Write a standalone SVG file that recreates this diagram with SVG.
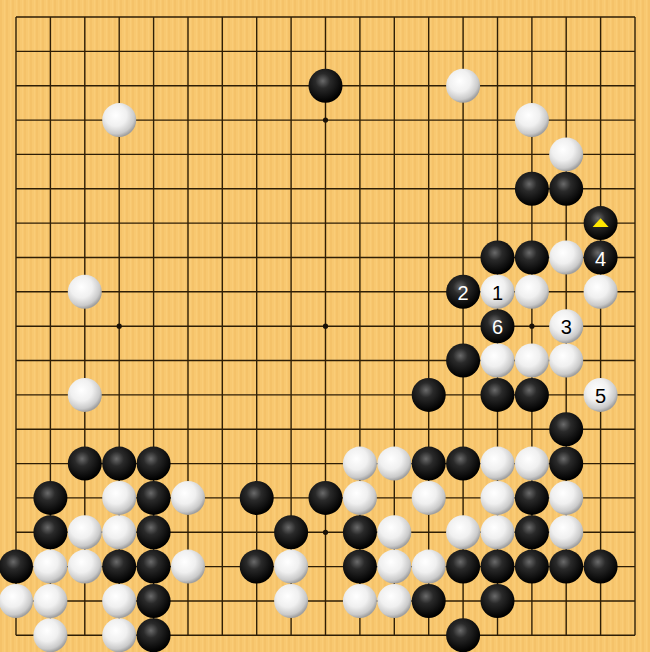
<svg xmlns="http://www.w3.org/2000/svg" xmlns:xlink="http://www.w3.org/1999/xlink" width="650" height="652" viewBox="0 0 650 652">
<defs>
<pattern id="wood" width="6" height="10" patternUnits="userSpaceOnUse">
<rect width="6" height="10" fill="#F8C870"/>
<rect x="0" width="2" height="10" fill="#F5C269"/>
<rect x="4" width="1" height="10" fill="#FACC77"/>
</pattern>
<radialGradient id="gb" cx="42%" cy="36%" r="62%">
<stop offset="0" stop-color="#6a6a6a"/>
<stop offset="0.35" stop-color="#2a2a2a"/>
<stop offset="1" stop-color="#000"/>
</radialGradient>
<radialGradient id="gw" cx="40%" cy="36%" r="64%">
<stop offset="0" stop-color="#ffffff"/>
<stop offset="0.5" stop-color="#f0f0f0"/>
<stop offset="0.85" stop-color="#cacaca"/>
<stop offset="1" stop-color="#a0a0a0"/>
</radialGradient>
<circle id="black" r="17" fill="url(#gb)"/>
<circle id="white" r="17" fill="url(#gw)"/>
</defs>
<style>
.grid{stroke:#2e1e06;stroke-width:1.4;fill:none}
.star{fill:#1a1208}
.lb{font-family:"Liberation Sans",Arial,sans-serif;font-size:20px;text-anchor:middle;dominant-baseline:central}
.onb{fill:#fff}
.onw{fill:#000}
</style>
<rect width="650" height="652" fill="url(#wood)"/>
<g id="board">
<path class="grid" d="M16 17V635.3M50.4 17V635.3M84.8 17V635.3M119.2 17V635.3M153.6 17V635.3M188 17V635.3M222.3 17V635.3M256.7 17V635.3M291.1 17V635.3M325.5 17V635.3M359.9 17V635.3M394.3 17V635.3M428.7 17V635.3M463.1 17V635.3M497.5 17V635.3M531.9 17V635.3M566.2 17V635.3M600.6 17V635.3M635 17V635.3
M16 17H635M16 51.4H635M16 85.7H635M16 120.1H635M16 154.4H635M16 188.8H635M16 223.1H635M16 257.5H635M16 291.8H635M16 326.2H635M16 360.5H635M16 394.9H635M16 429.2H635M16 463.6H635M16 497.9H635M16 532.3H635M16 566.6H635M16 601H635M16 635.3H635"/>
<g class="star">
<circle cx="119.2" cy="120.1" r="2.6"/><circle cx="325.5" cy="120.1" r="2.6"/><circle cx="531.9" cy="120.1" r="2.6"/>
<circle cx="119.2" cy="326.2" r="2.6"/><circle cx="325.5" cy="326.2" r="2.6"/><circle cx="531.9" cy="326.2" r="2.6"/>
<circle cx="119.2" cy="532.3" r="2.6"/><circle cx="325.5" cy="532.3" r="2.6"/><circle cx="531.9" cy="532.3" r="2.6"/>
</g>
</g>
<g id="black-stones">
<use id="b9-2" href="#black" x="325.5" y="85.7"/>
<use id="b15-5" href="#black" x="531.9" y="188.8"/>
<use id="b16-5" href="#black" x="566.2" y="188.8"/>
<g id="b17-6"><use href="#black" x="600.6" y="223.1"/><polygon points="600.6,218.3 592.6,227 608.6,227" fill="#FFE600"/></g>
<use id="b14-7" href="#black" x="497.5" y="257.5"/>
<use id="b15-7" href="#black" x="531.9" y="257.5"/>
<g id="b17-7"><use href="#black" x="600.6" y="257.5"/><text class="lb onb" x="600.6" y="258.5">4</text></g>
<g id="b13-8"><use href="#black" x="463.1" y="291.8"/><text class="lb onb" x="463.1" y="292.8">2</text></g>
<g id="b14-9"><use href="#black" x="497.5" y="326.2"/><text class="lb onb" x="497.5" y="327.2">6</text></g>
<use id="b13-10" href="#black" x="463.1" y="360.5"/>
<use id="b12-11" href="#black" x="428.7" y="394.9"/>
<use id="b14-11" href="#black" x="497.5" y="394.9"/>
<use id="b15-11" href="#black" x="531.9" y="394.9"/>
<use id="b16-12" href="#black" x="566.2" y="429.2"/>
<use id="b2-13" href="#black" x="84.8" y="463.6"/>
<use id="b3-13" href="#black" x="119.2" y="463.6"/>
<use id="b4-13" href="#black" x="153.6" y="463.6"/>
<use id="b12-13" href="#black" x="428.7" y="463.6"/>
<use id="b13-13" href="#black" x="463.1" y="463.6"/>
<use id="b16-13" href="#black" x="566.2" y="463.6"/>
<use id="b1-14" href="#black" x="50.4" y="497.9"/>
<use id="b4-14" href="#black" x="153.6" y="497.9"/>
<use id="b7-14" href="#black" x="256.7" y="497.9"/>
<use id="b9-14" href="#black" x="325.5" y="497.9"/>
<use id="b15-14" href="#black" x="531.9" y="497.9"/>
<use id="b1-15" href="#black" x="50.4" y="532.3"/>
<use id="b4-15" href="#black" x="153.6" y="532.3"/>
<use id="b8-15" href="#black" x="291.1" y="532.3"/>
<use id="b10-15" href="#black" x="359.9" y="532.3"/>
<use id="b15-15" href="#black" x="531.9" y="532.3"/>
<use id="b0-16" href="#black" x="16" y="566.6"/>
<use id="b3-16" href="#black" x="119.2" y="566.6"/>
<use id="b4-16" href="#black" x="153.6" y="566.6"/>
<use id="b7-16" href="#black" x="256.7" y="566.6"/>
<use id="b10-16" href="#black" x="359.9" y="566.6"/>
<use id="b13-16" href="#black" x="463.1" y="566.6"/>
<use id="b14-16" href="#black" x="497.5" y="566.6"/>
<use id="b15-16" href="#black" x="531.9" y="566.6"/>
<use id="b16-16" href="#black" x="566.2" y="566.6"/>
<use id="b17-16" href="#black" x="600.6" y="566.6"/>
<use id="b4-17" href="#black" x="153.6" y="601"/>
<use id="b12-17" href="#black" x="428.7" y="601"/>
<use id="b14-17" href="#black" x="497.5" y="601"/>
<use id="b4-18" href="#black" x="153.6" y="635.3"/>
<use id="b13-18" href="#black" x="463.1" y="635.3"/>
</g>
<g id="white-stones">
<use id="w13-2" href="#white" x="463.1" y="85.7"/>
<use id="w3-3" href="#white" x="119.2" y="120.1"/>
<use id="w15-3" href="#white" x="531.9" y="120.1"/>
<use id="w16-4" href="#white" x="566.2" y="154.4"/>
<use id="w16-7" href="#white" x="566.2" y="257.5"/>
<use id="w2-8" href="#white" x="84.8" y="291.8"/>
<g id="w14-8"><use href="#white" x="497.5" y="291.8"/><text class="lb onw" x="497.5" y="292.8">1</text></g>
<use id="w15-8" href="#white" x="531.9" y="291.8"/>
<use id="w17-8" href="#white" x="600.6" y="291.8"/>
<g id="w16-9"><use href="#white" x="566.2" y="326.2"/><text class="lb onw" x="566.2" y="327.2">3</text></g>
<use id="w14-10" href="#white" x="497.5" y="360.5"/>
<use id="w15-10" href="#white" x="531.9" y="360.5"/>
<use id="w16-10" href="#white" x="566.2" y="360.5"/>
<use id="w2-11" href="#white" x="84.8" y="394.9"/>
<g id="w17-11"><use href="#white" x="600.6" y="394.9"/><text class="lb onw" x="600.6" y="395.9">5</text></g>
<use id="w10-13" href="#white" x="359.9" y="463.6"/>
<use id="w11-13" href="#white" x="394.3" y="463.6"/>
<use id="w14-13" href="#white" x="497.5" y="463.6"/>
<use id="w15-13" href="#white" x="531.9" y="463.6"/>
<use id="w3-14" href="#white" x="119.2" y="497.9"/>
<use id="w5-14" href="#white" x="188" y="497.9"/>
<use id="w10-14" href="#white" x="359.9" y="497.9"/>
<use id="w12-14" href="#white" x="428.7" y="497.9"/>
<use id="w14-14" href="#white" x="497.5" y="497.9"/>
<use id="w16-14" href="#white" x="566.2" y="497.9"/>
<use id="w2-15" href="#white" x="84.8" y="532.3"/>
<use id="w3-15" href="#white" x="119.2" y="532.3"/>
<use id="w11-15" href="#white" x="394.3" y="532.3"/>
<use id="w13-15" href="#white" x="463.1" y="532.3"/>
<use id="w14-15" href="#white" x="497.5" y="532.3"/>
<use id="w16-15" href="#white" x="566.2" y="532.3"/>
<use id="w1-16" href="#white" x="50.4" y="566.6"/>
<use id="w2-16" href="#white" x="84.8" y="566.6"/>
<use id="w5-16" href="#white" x="188" y="566.6"/>
<use id="w8-16" href="#white" x="291.1" y="566.6"/>
<use id="w11-16" href="#white" x="394.3" y="566.6"/>
<use id="w12-16" href="#white" x="428.7" y="566.6"/>
<use id="w0-17" href="#white" x="16" y="601"/>
<use id="w1-17" href="#white" x="50.4" y="601"/>
<use id="w3-17" href="#white" x="119.2" y="601"/>
<use id="w8-17" href="#white" x="291.1" y="601"/>
<use id="w10-17" href="#white" x="359.9" y="601"/>
<use id="w11-17" href="#white" x="394.3" y="601"/>
<use id="w1-18" href="#white" x="50.4" y="635.3"/>
<use id="w3-18" href="#white" x="119.2" y="635.3"/>
</g>
</svg>
